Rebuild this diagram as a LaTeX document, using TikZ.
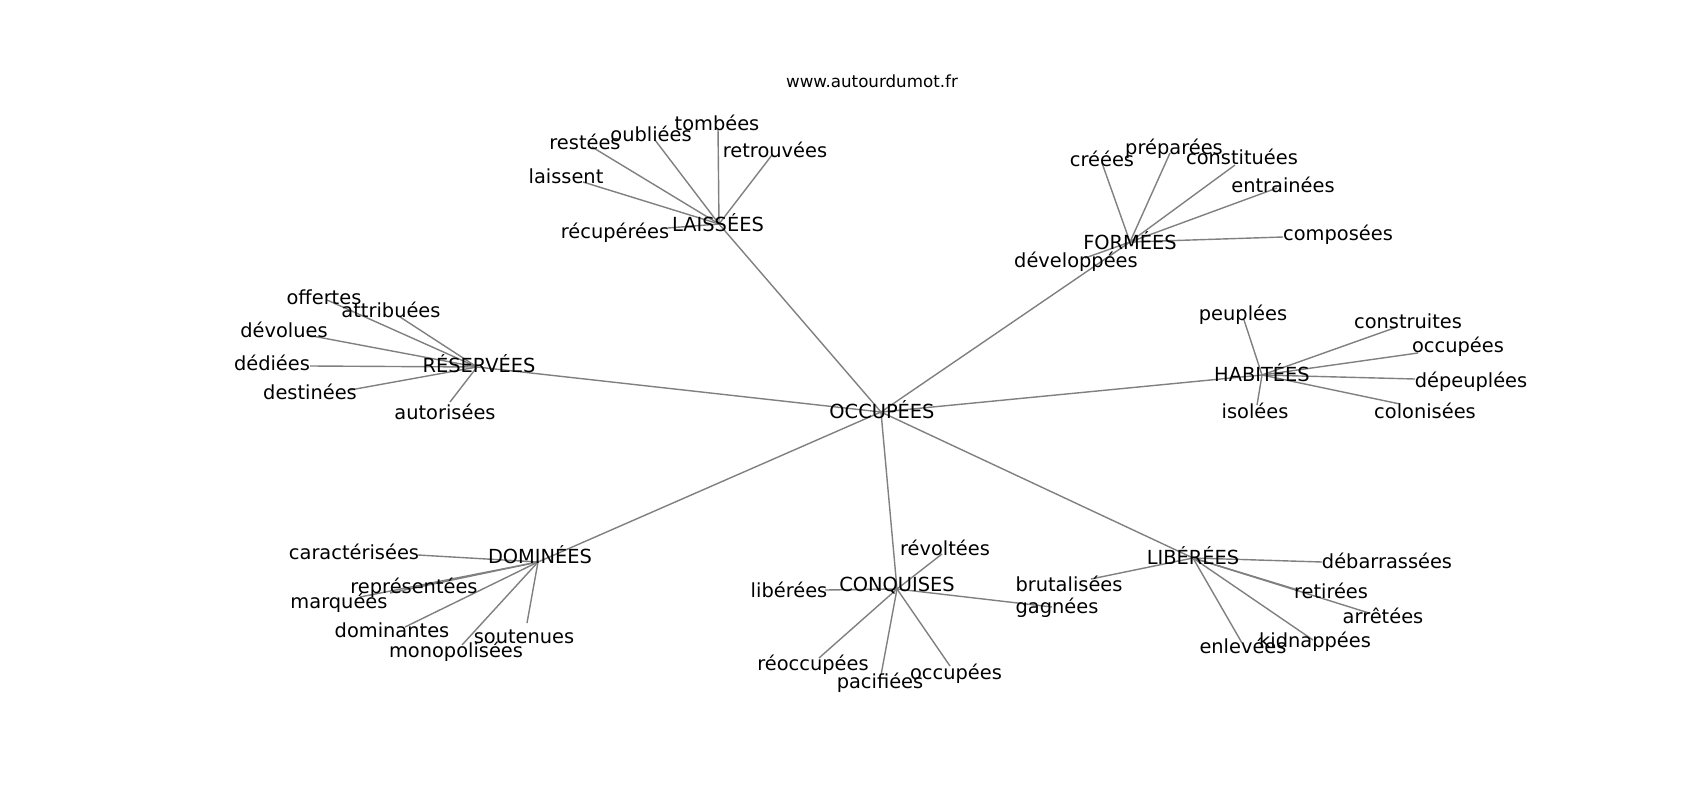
\documentclass[tikz,border=0pt]{standalone}
\usepackage{fontspec}
\setmainfont{DejaVu Sans}
\tikzset{
	link/.style={draw=black!50, line width=1.4pt},
	lbl/.style={anchor=base, inner sep=0pt, font=\fontsize{19.4}{23}\selectfont},
	site/.style={anchor=base, inner sep=0pt, font=\fontsize{16.7}{20}\selectfont}
}
\begin{document}
\begin{tikzpicture}[x=1pt, y=-1pt]
		\useasboundingbox[fill=white] (0,0) rectangle (1700,800);
		%hubs
		\coordinate (occ) at (881,412);
		\coordinate (lai) at (719,224);
		\coordinate (for) at (1130,242);
		\coordinate (res) at (477,367);
		\coordinate (hab) at (1262,375);
		\coordinate (dom) at (538,562);
		\coordinate (con) at (897,589);
		\coordinate (lib) at (1193,558);
		%LAISSEES
		\coordinate (lai-tom) at (718,128);
		\coordinate (lai-oub) at (655,140);
		\coordinate (lai-res) at (592,147);
		\coordinate (lai-ret) at (772,155);
		\coordinate (lai-lai) at (583,182);
		\coordinate (lai-rec) at (668,228);
		%FORMEES
		\coordinate (for-cre) at (1102,163);
		\coordinate (for-pre) at (1170,153);
		\coordinate (for-con) at (1235,165);
		\coordinate (for-ent) at (1277,188);
		\coordinate (for-com) at (1283,237);
		\coordinate (for-dev) at (1085,258);
		%RESERVEES
		\coordinate (res-off) at (327,300);
		\coordinate (res-att) at (400,317);
		\coordinate (res-dev) at (307,335);
		\coordinate (res-ded) at (310,366);
		\coordinate (res-des) at (350,390);
		\coordinate (res-aut) at (450,402);
		%HABITEES
		\coordinate (hab-peu) at (1244,320);
		\coordinate (hab-con) at (1397,327);
		\coordinate (hab-occ) at (1418,353);
		\coordinate (hab-dep) at (1415,379);
		\coordinate (hab-iso) at (1257,405);
		\coordinate (hab-col) at (1400,404);
		%DOMINEES
		\coordinate (dom-car) at (418,555);
		\coordinate (dom-rep) at (390,593);
		\coordinate (dom-mar) at (360,597);
		\coordinate (dom-dom) at (405,627);
		\coordinate (dom-sou) at (527,623);
		\coordinate (dom-mon) at (462,645);
		%CONQUISES
		\coordinate (con-rev) at (942,554);
		\coordinate (con-lib) at (825,590);
		\coordinate (con-gag) at (1052,607);
		\coordinate (con-reo) at (819,658);
		\coordinate (con-pac) at (881,675);
		\coordinate (con-occ) at (950,666);
		%LIBEREES
		\coordinate (lib-bru) at (1091,579);
		\coordinate (lib-deb) at (1322,562);
		\coordinate (lib-ret) at (1298,590);
		\coordinate (lib-arr) at (1369,613);
		\coordinate (lib-kid) at (1313,640);
		\coordinate (lib-enl) at (1242,643);

		%edges
		\draw[link] (occ) -- (lai);
		\draw[link] (occ) -- (for);
		\draw[link] (occ) -- (res);
		\draw[link] (occ) -- (hab);
		\draw[link] (occ) -- (dom);
		\draw[link] (occ) -- (con);
		\draw[link] (occ) -- (lib);
		\draw[link] (lai) -- (lai-tom);
		\draw[link] (lai) -- (lai-oub);
		\draw[link] (lai) -- (lai-res);
		\draw[link] (lai) -- (lai-ret);
		\draw[link] (lai) -- (lai-lai);
		\draw[link] (lai) -- (lai-rec);
		\draw[link] (for) -- (for-cre);
		\draw[link] (for) -- (for-pre);
		\draw[link] (for) -- (for-con);
		\draw[link] (for) -- (for-ent);
		\draw[link] (for) -- (for-com);
		\draw[link] (for) -- (for-dev);
		\draw[link] (res) -- (res-off);
		\draw[link] (res) -- (res-att);
		\draw[link] (res) -- (res-dev);
		\draw[link] (res) -- (res-ded);
		\draw[link] (res) -- (res-des);
		\draw[link] (res) -- (res-aut);
		\draw[link] (hab) -- (hab-peu);
		\draw[link] (hab) -- (hab-con);
		\draw[link] (hab) -- (hab-occ);
		\draw[link] (hab) -- (hab-dep);
		\draw[link] (hab) -- (hab-iso);
		\draw[link] (hab) -- (hab-col);
		\draw[link] (dom) -- (dom-car);
		\draw[link] (dom) -- (dom-rep);
		\draw[link] (dom) -- (dom-mar);
		\draw[link] (dom) -- (dom-dom);
		\draw[link] (dom) -- (dom-sou);
		\draw[link] (dom) -- (dom-mon);
		\draw[link] (con) -- (con-rev);
		\draw[link] (con) -- (con-lib);
		\draw[link] (con) -- (con-gag);
		\draw[link] (con) -- (con-reo);
		\draw[link] (con) -- (con-pac);
		\draw[link] (con) -- (con-occ);
		\draw[link] (lib) -- (lib-bru);
		\draw[link] (lib) -- (lib-deb);
		\draw[link] (lib) -- (lib-ret);
		\draw[link] (lib) -- (lib-arr);
		\draw[link] (lib) -- (lib-kid);
		\draw[link] (lib) -- (lib-enl);

		%labels
		\node[site] (site) at (872,88) {www.autourdumot.fr};
		\node[lbl] (t-occ) at (882,418) {OCCUPÉES};
		\node[lbl] (t-lai) at (718,231) {LAISSÉES};
		\node[lbl] (t-for) at (1130,249) {FORMÉES};
		\node[lbl] (t-res) at (479,372) {RÉSERVÉES};
		\node[lbl] (t-hab) at (1262,381) {HABITÉES};
		\node[lbl] (t-dom) at (540,563) {DOMINÉES};
		\node[lbl] (t-con) at (897,591) {CONQUISES};
		\node[lbl] (t-lib) at (1193,564) {LIBÉRÉES};
		%LAISSEES
		\node[lbl] (t-lai-tom) at (717,130) {tombées};
		\node[lbl] (t-lai-oub) at (651,141) {oubliées};
		\node[lbl] (t-lai-res) at (585,149) {restées};
		\node[lbl] (t-lai-ret) at (775,157) {retrouvées};
		\node[lbl] (t-lai-lai) at (566,183) {laissent};
		\node[lbl] (t-lai-rec) at (615,238) {récupérées};
		%FORMEES
		\node[lbl] (t-for-cre) at (1102,166) {créées};
		\node[lbl] (t-for-pre) at (1174,154) {préparées};
		\node[lbl] (t-for-con) at (1242,164) {constituées};
		\node[lbl] (t-for-ent) at (1283,192) {entrainées};
		\node[lbl] (t-for-com) at (1338,240) {composées};
		\node[lbl] (t-for-dev) at (1076,267) {développées};
		%RESERVEES
		\node[lbl] (t-res-off) at (324,304) {offertes};
		\node[lbl] (t-res-att) at (391,317) {attribuées};
		\node[lbl] (t-res-dev) at (284,337) {dévolues};
		\node[lbl] (t-res-ded) at (272,370) {dédiées};
		\node[lbl] (t-res-des) at (310,399) {destinées};
		\node[lbl] (t-res-aut) at (445,419) {autorisées};
		%HABITEES
		\node[lbl] (t-hab-peu) at (1243,320) {peuplées};
		\node[lbl] (t-hab-con) at (1408,328) {construites};
		\node[lbl] (t-hab-occ) at (1458,352) {occupées};
		\node[lbl] (t-hab-dep) at (1471,387) {dépeuplées};
		\node[lbl] (t-hab-iso) at (1255,418) {isolées};
		\node[lbl] (t-hab-col) at (1425,418) {colonisées};
		%DOMINEES
		\node[lbl] (t-dom-car) at (354,559) {caractérisées};
		\node[lbl] (t-dom-rep) at (414,593) {représentées};
		\node[lbl] (t-dom-mar) at (339,608) {marquées};
		\node[lbl] (t-dom-dom) at (392,637) {dominantes};
		\node[lbl] (t-dom-sou) at (524,643) {soutenues};
		\node[lbl] (t-dom-mon) at (456,657) {monopolisées};
		%CONQUISES
		\node[lbl] (t-con-rev) at (945,555) {révoltées};
		\node[lbl] (t-con-lib) at (789,597) {libérées};
		\node[lbl] (t-con-gag) at (1057,613) {gagnées};
		\node[lbl] (t-con-reo) at (813,670) {réoccupées};
		\node[lbl] (t-con-pac) at (880,688) {pacifiées};
		\node[lbl] (t-con-occ) at (956,679) {occupées};
		%LIBEREES
		\node[lbl] (t-lib-bru) at (1069,591) {brutalisées};
		\node[lbl] (t-lib-deb) at (1387,568) {débarrassées};
		\node[lbl] (t-lib-ret) at (1331,598) {retirées};
		\node[lbl] (t-lib-arr) at (1383,623) {arrêtées};
		\node[lbl] (t-lib-kid) at (1315,647) {kidnappées};
		\node[lbl] (t-lib-enl) at (1243,653) {enlevées};
\end{tikzpicture}
\end{document}
